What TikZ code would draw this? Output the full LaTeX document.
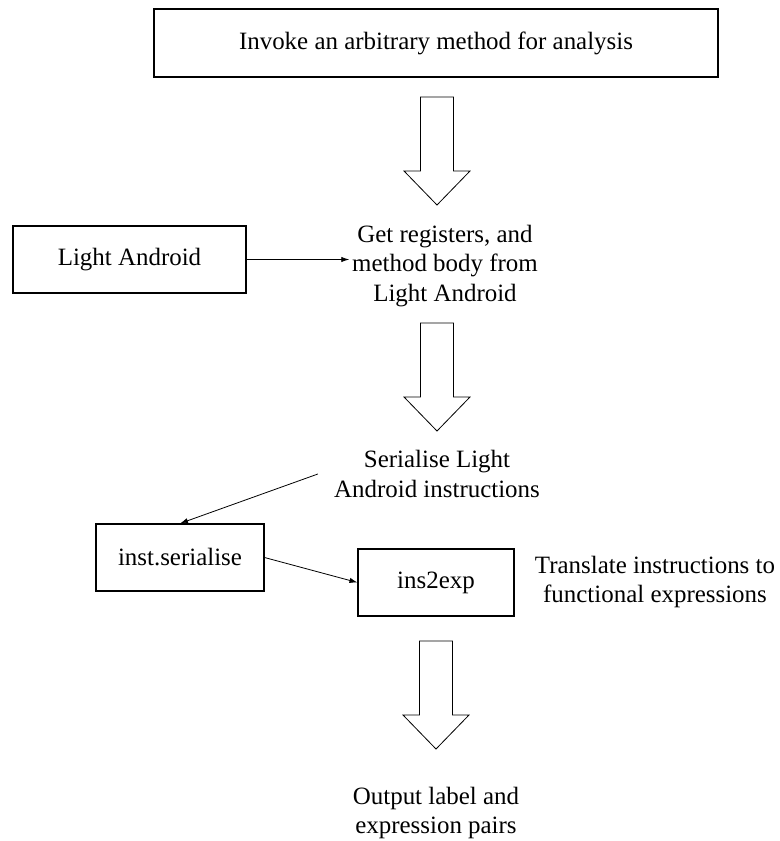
\documentclass[tikz,border=0pt]{standalone}
\usepackage{fontspec}
\setmainfont{Liberation Serif}
\usetikzlibrary{arrows.meta, positioning, calc}

\begin{document}
\begin{tikzpicture}[
    x=0.75pt, y=-0.75pt,
    font=\fontsize{18.7}{22.3}\selectfont,
    box/.style={draw, thick, inner sep=0pt, align=center},
    txt/.style={align=center, inner sep=2pt},
    link/.style={-{Latex[length=6pt, width=4pt]}, semithick},
    bigarrow/.pic={\draw[semithick, fill=white] (-16.5,0) -- (16.5,0) -- (16.5,74) -- (33,74)
        -- (0,108) -- (-33,74) -- (-16.5,74) -- cycle;}
]
\useasboundingbox (0,0) rectangle (779,841);

% Boxes
\node[box, minimum width=564*0.75pt, minimum height=68*0.75pt] (invoke) at (436,43) {Invoke an arbitrary method for analysis};
\node[box, minimum width=233*0.75pt, minimum height=67*0.75pt] (light) at (129.5,259.5) {Light Android};
\node[box, minimum width=168*0.75pt, minimum height=67*0.75pt] (inst) at (180,557.5) {inst.serialise};
\node[box, minimum width=156*0.75pt, minimum height=67*0.75pt] (ins2exp) at (436,582.5) {ins2exp};

% Steps
\node[txt] (regs) at (445,266) {Get registers, and\\method body from\\Light Android};
\node[txt] (serial) at (437,474) {Serialise Light\\Android instructions};
\node[txt] (translate) at (655,582) {Translate instructions to\\functional expressions};
\node[txt] (output) at (436,813) {Output label and\\expression pairs};

% Block arrows
\pic at (437,97) {bigarrow};
\pic at (437,323) {bigarrow};
\pic at (436,641) {bigarrow};

% Arrows
\draw[link] (light.east) -- (light.east -| regs.west);
\draw[link] ([xshift=-10pt]serial.west) -- (inst.north);
\draw[link] (inst.east) -- (ins2exp.west);
\end{tikzpicture}
\end{document}
